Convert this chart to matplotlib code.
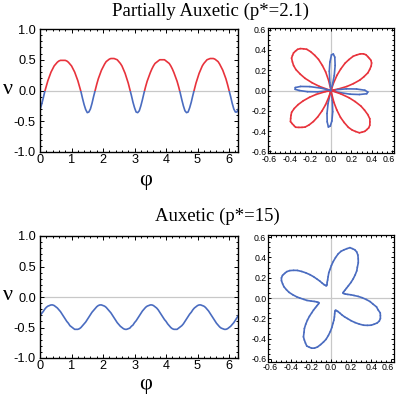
import numpy as np
import matplotlib
matplotlib.use("Agg")
import matplotlib.pyplot as plt
import matplotlib.transforms as mtransforms
from matplotlib.collections import LineCollection
from matplotlib.patches import Rectangle
from matplotlib.ticker import MultipleLocator, FormatStrFormatter

# ---------------- data ----------------
phi = [0.00, 0.05, 0.10, 0.15, 0.20, 0.25, 0.30, 0.35, 0.40, 0.45,
       0.50, 0.55, 0.60, 0.65, 0.70, 0.75, 0.80, 0.85, 0.90, 0.95,
       1.00, 1.05, 1.10, 1.15, 1.20, 1.25, 1.30, 1.35, 1.40, 1.45,
       1.50, 1.55, 1.60, 1.65, 1.70, 1.75, 1.80, 1.85, 1.90, 1.95,
       2.00, 2.05, 2.10, 2.15, 2.20, 2.25, 2.30, 2.35, 2.40, 2.45,
       2.50, 2.55, 2.60, 2.65, 2.70, 2.75, 2.80, 2.85, 2.90, 2.95,
       3.00, 3.05, 3.10, 3.15, 3.20, 3.25, 3.30, 3.35, 3.40, 3.45,
       3.50, 3.55, 3.60, 3.65, 3.70, 3.75, 3.80, 3.85, 3.90, 3.95,
       4.00, 4.05, 4.10, 4.15, 4.20, 4.25, 4.30, 4.35, 4.40, 4.45,
       4.50, 4.55, 4.60, 4.65, 4.70, 4.75, 4.80, 4.85, 4.90, 4.95,
       5.00, 5.05, 5.10, 5.15, 5.20, 5.25, 5.30, 5.35, 5.40, 5.45,
       5.50, 5.55, 5.60, 5.65, 5.70, 5.75, 5.80, 5.85, 5.90, 5.95,
       6.00, 6.05, 6.10, 6.15, 6.20, 6.25, 6.2832]

nu_partial = [-0.31, -0.23, -0.13, -0.02, 0.07, 0.16, 0.23, 0.30, 0.35, 0.40,
              0.43, 0.46, 0.48, 0.49, 0.49, 0.49, 0.49, 0.48, 0.46, 0.43,
              0.40, 0.35, 0.30, 0.23, 0.16, 0.07, -0.02, -0.13, -0.23, -0.31,
              -0.36, -0.35, -0.30, -0.21, -0.10, 0.00, 0.10, 0.19, 0.26, 0.33,
              0.38, 0.43, 0.47, 0.49, 0.51, 0.52, 0.52, 0.52, 0.51, 0.50,
              0.47, 0.44, 0.40, 0.34, 0.28, 0.20, 0.12, 0.02, -0.08, -0.19,
              -0.28, -0.35, -0.36, -0.33, -0.25, -0.15, -0.04, 0.06, 0.15, 0.22,
              0.29, 0.35, 0.40, 0.44, 0.46, 0.48, 0.50, 0.50, 0.50, 0.50,
              0.48, 0.46, 0.44, 0.40, 0.35, 0.29, 0.22, 0.15, 0.06, -0.04,
              -0.15, -0.25, -0.33, -0.36, -0.35, -0.28, -0.19, -0.08, 0.02, 0.12,
              0.20, 0.28, 0.34, 0.40, 0.44, 0.47, 0.50, 0.51, 0.52, 0.52,
              0.52, 0.51, 0.49, 0.47, 0.43, 0.38, 0.33, 0.26, 0.19, 0.10,
              0.00, -0.10, -0.21, -0.30, -0.35, -0.35, -0.31]

nu_auxetic = [-0.31, -0.27, -0.24, -0.20, -0.17, -0.15, -0.14, -0.13, -0.13, -0.14,
              -0.16, -0.18, -0.21, -0.24, -0.28, -0.32, -0.36, -0.40, -0.43, -0.47,
              -0.49, -0.51, -0.53, -0.53, -0.53, -0.52, -0.50, -0.47, -0.44, -0.41,
              -0.37, -0.33, -0.29, -0.25, -0.22, -0.19, -0.16, -0.14, -0.13, -0.13,
              -0.14, -0.15, -0.17, -0.20, -0.23, -0.26, -0.30, -0.34, -0.38, -0.42,
              -0.45, -0.48, -0.50, -0.52, -0.53, -0.53, -0.52, -0.51, -0.48, -0.46,
              -0.42, -0.39, -0.35, -0.31, -0.27, -0.23, -0.20, -0.17, -0.15, -0.14,
              -0.13, -0.13, -0.14, -0.16, -0.18, -0.21, -0.25, -0.29, -0.33, -0.37,
              -0.40, -0.44, -0.47, -0.50, -0.52, -0.53, -0.53, -0.53, -0.51, -0.49,
              -0.47, -0.44, -0.40, -0.36, -0.32, -0.28, -0.25, -0.21, -0.18, -0.16,
              -0.14, -0.13, -0.13, -0.14, -0.15, -0.17, -0.20, -0.23, -0.27, -0.31,
              -0.35, -0.39, -0.43, -0.46, -0.49, -0.51, -0.52, -0.53, -0.53, -0.52,
              -0.50, -0.48, -0.45, -0.42, -0.38, -0.34, -0.31]

title_top = "Partially Auxetic (p*=2.1)"
title_bottom = "Auxetic (p*=15)"
x_ticks = [0, 1, 2, 3, 4, 5, 6]
y_ticks = [-1.0, -0.5, 0.0, 0.5, 1.0]
polar_ticks = [-0.6, -0.4, -0.2, 0.0, 0.2, 0.4, 0.6]

RED = "#E8333C"
BLUE = "#4A6CC0"
GRAY = "#C8C8C8"
LW = 1.2

W, H = 397, 394
fig = plt.figure(figsize=(W / 100, H / 100), dpi=100)
fig.patch.set_facecolor("white")

SANS = "Liberation Sans"
SERIF = "Liberation Serif"


def px_axes(l, r, t, b):
    return fig.add_axes([l / W, 1 - b / H, (r - l) / W, (b - t) / H])


def style_frame(ax, fs):
    for s in ax.spines.values():
        s.set_linewidth(1.0)
        s.set_color("black")
    ax.tick_params(which="both", direction="in", top=True, right=True,
                   width=0.7, color="black")
    ax.tick_params(which="major", length=3.0)
    ax.tick_params(which="minor", length=1.6)
    for lab in ax.get_xticklabels() + ax.get_yticklabels():
        lab.set_fontfamily(SANS)
        lab.set_fontsize(fs)


def cart_panel(ax, x, y, two_colour):
    x = np.asarray(x)
    y = np.asarray(y)
    ax.axhline(0, color=GRAY, lw=0.9, zorder=1)
    if two_colour:
        lb, = ax.plot(x, y, color=BLUE, lw=LW, zorder=2)
        lb.set_clip_path(Rectangle((0, -1.5), 7, 1.5, transform=ax.transData))
        lr, = ax.plot(x, y, color=RED, lw=LW, zorder=3)
        lr.set_clip_path(Rectangle((0, 0), 7, 1.5, transform=ax.transData))
    else:
        ax.plot(x, y, color=BLUE, lw=LW, zorder=2)
    ax.set_xlim(0, 2 * np.pi)
    ax.set_ylim(-1, 1)
    ax.set_xticks(x_ticks)
    ax.set_yticks(y_ticks)
    ax.xaxis.set_minor_locator(MultipleLocator(0.2))
    ax.yaxis.set_minor_locator(MultipleLocator(0.1))
    ax.yaxis.set_major_formatter(FormatStrFormatter("%.1f"))
    ax.tick_params(axis="x", pad=1.5)
    ax.tick_params(axis="y", pad=3)
    style_frame(ax, 9.2)


def polar_panel(ax, x, y, two_colour, lim):
    ph = np.asarray(x)
    r = np.asarray(y)
    px = r * np.cos(ph)
    py = r * np.sin(ph)
    ax.axhline(0, color=GRAY, lw=0.9, zorder=1)
    ax.axvline(0, color=GRAY, lw=0.9, zorder=1)
    pts = np.column_stack([px, py])
    segs = np.stack([pts[:-1], pts[1:]], axis=1)
    mid = 0.5 * (r[:-1] + r[1:])
    if two_colour:
        cols = [RED if m > 0 else BLUE for m in mid]
    else:
        cols = [BLUE] * len(mid)
    lc = LineCollection(segs, colors=cols, linewidths=LW, zorder=2,
                        capstyle="round", joinstyle="round")
    ax.add_collection(lc)
    ax.set_xlim(-lim, lim)
    ax.set_ylim(-lim, lim)
    ax.set_xticks(polar_ticks)
    ax.set_yticks(polar_ticks)
    ax.xaxis.set_minor_locator(MultipleLocator(0.05))
    ax.yaxis.set_minor_locator(MultipleLocator(0.05))
    ax.xaxis.set_major_formatter(FormatStrFormatter("%.1f"))
    ax.yaxis.set_major_formatter(FormatStrFormatter("%.1f"))
    ax.tick_params(axis="both", pad=1.2)
    style_frame(ax, 6.3)
    for s in ax.spines.values():
        s.set_linewidth(0.9)
    ax.tick_params(which="major", length=2.0)
    ax.tick_params(which="minor", length=1.1)
    # keep the last x label inside the figure edge
    last = ax.get_xticklabels()[-1]
    shift = mtransforms.ScaledTranslation(-3.5 / 100, 0, fig.dpi_scale_trans)
    last.set_transform(last.get_transform() + shift)


# top row
ax1 = px_axes(40, 238, 29, 152)
cart_panel(ax1, phi, nu_partial, True)
ax2 = px_axes(268, 394, 28, 153)
polar_panel(ax2, phi, nu_partial, True, 0.615)

# bottom row
ax3 = px_axes(40, 238, 236, 358)
cart_panel(ax3, phi, nu_auxetic, False)
ax4 = px_axes(268, 394, 234.5, 361.5)
polar_panel(ax4, phi, nu_auxetic, False, 0.625)

# titles and axis labels
fig.text(211 / W, 1 - 11 / H, title_top, ha="center", va="center",
         fontfamily=SERIF, fontsize=13.5)
fig.text(217 / W, 1 - 216 / H, title_bottom, ha="center", va="center",
         fontfamily=SERIF, fontsize=13.5)
fig.text(8 / W, 1 - 90 / H, "ν", ha="center", va="center",
         fontfamily=SERIF, fontsize=16)
fig.text(8 / W, 1 - 296 / H, "ν", ha="center", va="center",
         fontfamily=SERIF, fontsize=16)
fig.text(146 / W, 1 - 180 / H, "φ", ha="center", va="center",
         fontfamily=SERIF, fontsize=16)
fig.text(146 / W, 1 - 385 / H, "φ", ha="center", va="center",
         fontfamily=SERIF, fontsize=16)

fig.savefig("out.png", dpi=100, facecolor="white")
